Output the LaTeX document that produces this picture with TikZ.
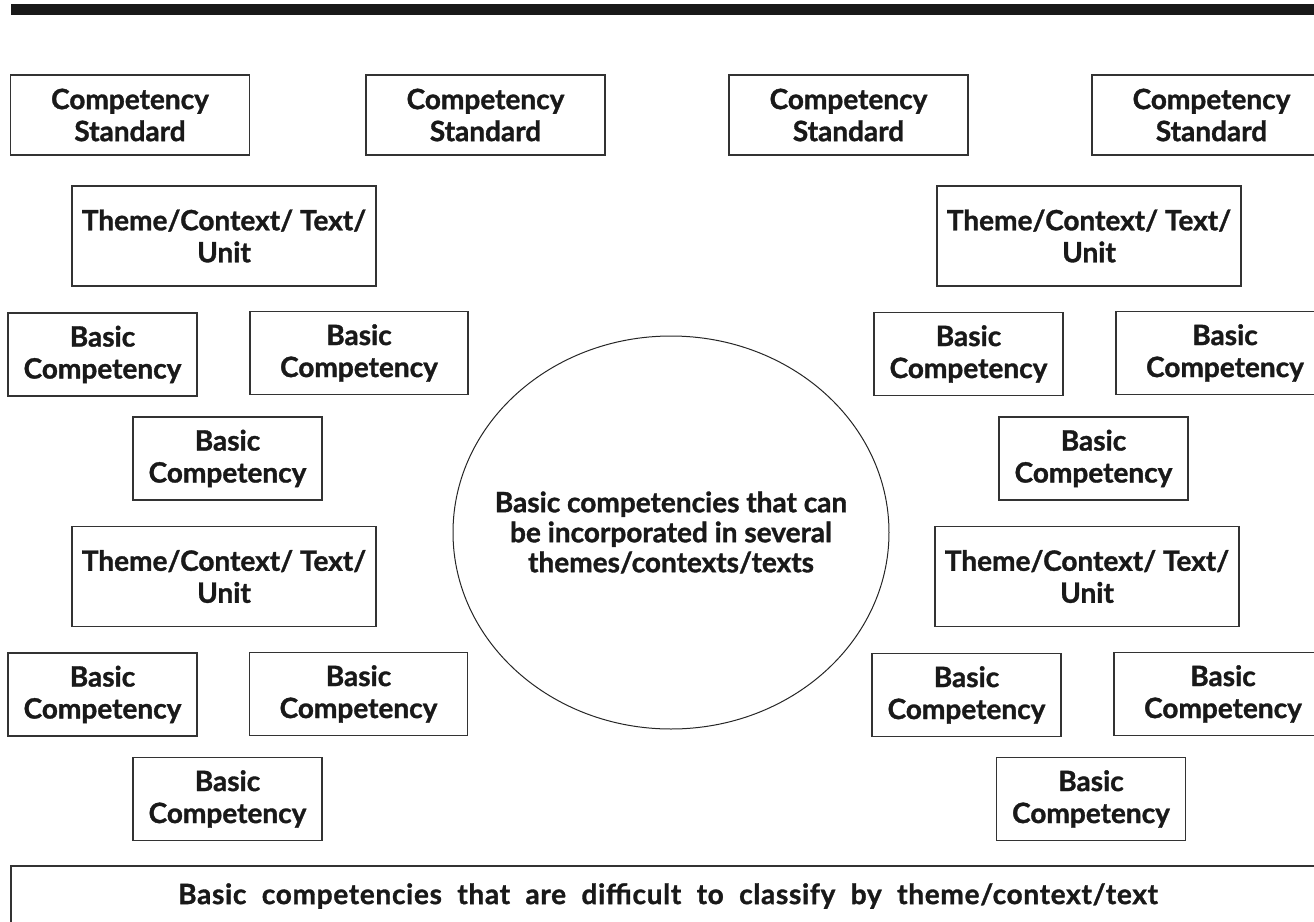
\documentclass[tikz,border=0pt]{standalone}
\usepackage{fontspec}
\setmainfont{Lato}[BoldFeatures={FakeBold=1.2}]
\usepackage{pgf,tikz}
\usetikzlibrary{shapes.geometric}

\begin{document}
\begin{tikzpicture}[x=0.5pt,y=-0.5pt,
    every node/.style={font=\bfseries\fontsize{14}{16}\selectfont,align=center,inner sep=0pt,text=black!90},
    box/.style={draw=black!80,line width=0.6pt,rectangle},
    csbox/.style={box,minimum width=119.5pt,minimum height=40pt},
    themebox/.style={box,minimum width=152pt,minimum height=50pt},
    bcbox/.style={box,minimum width=94.5pt,minimum height=41.5pt},
    widebc/.style={bcbox,minimum width=109pt}]
    \clip (0,0) rectangle (1314,922);
    \fill[black!90] (11,4) rectangle (1314,15);

    \node[csbox] (cs_1) at (130,115) {Competency\\Standard};
    \node[csbox] (cs_2) at (485.5,115) {Competency\\Standard};
    \node[csbox] (cs_3) at (848.5,115) {Competency\\Standard};
    \node[csbox] (cs_4) at (1211.5,115) {Competency\\Standard};

    \node[themebox] (th_l1) at (224,236) {Theme/Context/ Text/\\Unit};
    \node[themebox] (th_r1) at (1089,236) {Theme/Context/ Text/\\Unit};
    \node[themebox] (th_l2) at (224,576.5) {Theme/Context/ Text/\\Unit};
    \node[themebox] (th_r2) at (1087,576.5) {Theme/Context/ Text/\\Unit};

    \node[bcbox] (bc_l1) at (102.5,354.5) {Basic\\Competency};
    \node[widebc] (bc_l2) at (359,353) {Basic\\Competency};
    \node[bcbox] (bc_l3) at (227.5,458.5) {Basic\\Competency};
    \node[bcbox] (bc_l4) at (102.5,694.5) {Basic\\Competency};
    \node[widebc] (bc_l5) at (358.5,694) {Basic\\Competency};
    \node[bcbox] (bc_l6) at (227.5,799) {Basic\\Competency};

    \node[bcbox] (bc_r1) at (968.5,354) {Basic\\Competency};
    \node[widebc] (bc_r2) at (1225,353) {Basic\\Competency};
    \node[bcbox] (bc_r3) at (1093.5,458.5) {Basic\\Competency};
    \node[bcbox] (bc_r4) at (966.5,695) {Basic\\Competency};
    \node[widebc] (bc_r5) at (1223,694) {Basic\\Competency};
    \node[bcbox] (bc_r6) at (1091,799) {Basic\\Competency};

    \node[draw=black!85,line width=0.5pt,ellipse,inner sep=-40pt,minimum width=218pt,minimum height=196.5pt,
        font=\bfseries\fontsize{14}{15}\selectfont] (shared) at (671,532.5)
        {Basic competencies that can\\be incorporated in several\\themes/contexts/texts};

    \node[box,minimum width=657pt,minimum height=30pt] (rest) at (668,896)
        {\addfontfeatures{LetterSpace=2.5}\spaceskip=0.55em Basic competencies that are difficult to classify by theme/context/text};
\end{tikzpicture}
\end{document}
